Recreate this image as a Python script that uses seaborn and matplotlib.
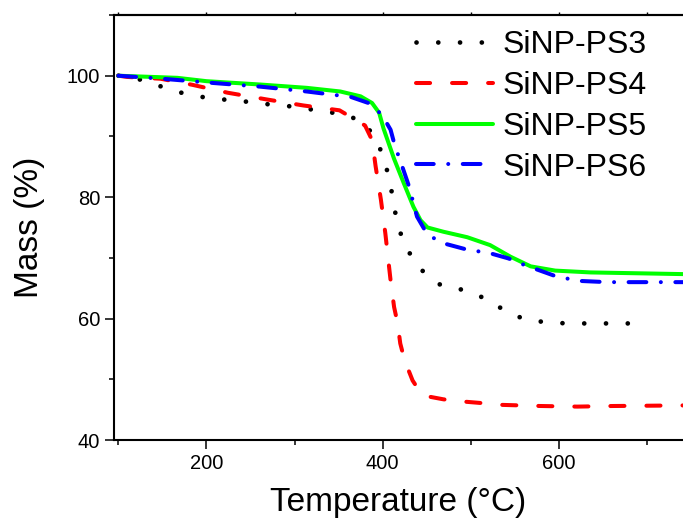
import matplotlib
matplotlib.use("Agg")
import matplotlib.pyplot as plt
from matplotlib.ticker import MultipleLocator
import seaborn as sns
import pandas as pd

# ---- data ----
t_ps3 = [100, 127, 151, 176, 201, 225, 251, 275, 300, 327, 353, 378, 394, 403, 409,
         413, 418, 428, 445, 466, 492, 515, 538, 562, 586, 609, 631, 654, 676, 692, 701]
m_ps3 = [100, 99.3, 98.1, 97.0, 96.35, 96.0, 95.65, 95.2, 94.9, 94.25, 93.7, 92.5, 89.2, 85.6, 82.0,
         78.4, 74.9, 71.3, 67.9, 65.5, 64.7, 63.4, 61.4, 59.8, 59.4, 59.2, 59.2, 59.2, 59.2, 59.2, 59.8]

t_ps4 = [100, 110, 148, 184, 224, 258, 268, 310, 351, 380, 388, 392, 398, 403, 409,
         413, 417, 420, 425, 434, 445, 469, 486, 511, 532, 579, 621, 662, 704, 745]
m_ps4 = [100, 99.8, 99.5, 98.5, 97.2, 96.35, 96.1, 95.1, 94.3, 91.8, 89.4, 85.1, 79.6, 74.1, 66.3,
         61.9, 59.2, 55.9, 53.1, 49.8, 47.35, 46.7, 46.4, 46.1, 45.8, 45.6, 45.5, 45.6, 45.65, 45.7]

t_ps5 = [100, 167, 200, 261, 314, 352, 375, 388, 396, 401, 407, 413, 424, 435, 443,
         451, 469, 496, 522, 545, 568, 596, 636, 693, 750]
m_ps5 = [100, 99.65, 99.1, 98.55, 98.0, 97.4, 96.6, 95.5, 93.9, 91.3, 88.8, 86.3, 82.3, 78.4, 76.2,
         75.0, 74.3, 73.4, 72.1, 70.2, 68.6, 67.9, 67.6, 67.45, 67.3]

t_ps6 = [100, 150, 208, 261, 314, 364, 384, 399, 409, 414, 420, 430, 439, 451, 469,
         496, 521, 543, 556, 573, 598, 624, 655, 700, 742]
m_ps6 = [100, 99.5, 98.8, 98.2, 97.4, 96.5, 95.5, 93.6, 91.1, 88.4, 86.0, 81.75, 76.8, 73.8, 72.4,
         71.35, 70.8, 69.9, 69.1, 68.2, 66.9, 66.2, 66.0, 66.0, 66.0]

series_names = ["SiNP-PS3", "SiNP-PS4", "SiNP-PS5", "SiNP-PS6"]
x_ticks = [200, 400, 600]
y_ticks = [40, 60, 80, 100]

frames = []
for name, t, m in zip(series_names, [t_ps3, t_ps4, t_ps5, t_ps6], [m_ps3, m_ps4, m_ps5, m_ps6]):
    frames.append(pd.DataFrame({"Temperature": t, "Mass": m, "Sample": name}))
df = pd.concat(frames, ignore_index=True)

styles = {
    "SiNP-PS3": dict(color="#000000", linestyle=(0, (0.01, 4.6)), linewidth=3.4),
    "SiNP-PS4": dict(color="#FF0000", linestyle=(0, (3.5, 5.45)), linewidth=2.9),
    "SiNP-PS5": dict(color="#00FF00", linestyle="-", linewidth=2.9),
    "SiNP-PS6": dict(color="#0000FF", linestyle=(0, (4.4, 3.6, 0.01, 3.6)), linewidth=2.9),
}

sns.set_style("ticks")
plt.rcParams["font.family"] = ["Liberation Sans", "DejaVu Sans"]
plt.rcParams["text.color"] = "black"
plt.rcParams["axes.labelcolor"] = "black"
plt.rcParams["xtick.color"] = "black"
plt.rcParams["ytick.color"] = "black"
plt.rcParams["axes.edgecolor"] = "black"

fig = plt.figure(figsize=(6.83, 5.21), dpi=100)
ax = fig.add_axes([114 / 683, 1 - 440 / 521, (683 - 114) / 683, (440 - 15) / 521])

for name in series_names:
    sub = df[df["Sample"] == name]
    sns.lineplot(data=sub, x="Temperature", y="Mass", ax=ax, label=name,
                 sort=False, estimator=None,
                 dash_capstyle="round", solid_capstyle="round", **styles[name])

ax.set_xlim(95, 741)
ax.set_ylim(40, 110)
ax.set_xticks(x_ticks)
ax.set_yticks(y_ticks)
ax.xaxis.set_minor_locator(MultipleLocator(100))
ax.yaxis.set_minor_locator(MultipleLocator(10))

for s in ["left", "bottom", "top"]:
    ax.spines[s].set_linewidth(1.5)
    ax.spines[s].set_color("black")
ax.spines["right"].set_visible(False)

ax.tick_params(axis="both", which="major", direction="out", length=6.5, width=1.1,
               labelsize=14.5, pad=3.5, colors="black")
ax.tick_params(axis="both", which="minor", direction="out", length=3.5, width=1.1, colors="black")
# small ticks on the top spine
sec = ax.secondary_xaxis("top")
sec.set_xticks(x_ticks)
sec.xaxis.set_minor_locator(MultipleLocator(100))
sec.tick_params(which="both", direction="out", length=2, width=1.0, labeltop=False, colors="black")
sec.spines["top"].set_linewidth(1.5)

ax.set_xlabel("Temperature (°C)", fontsize=24, labelpad=10, color="black")
ax.set_ylabel("Mass (%)", fontsize=24, labelpad=16, color="black")

leg = ax.legend(loc="upper left", bbox_to_anchor=(416 / 683, 1 - 30 / 521),
                bbox_transform=fig.transFigure, frameon=False, fontsize=23,
                handlelength=2.41, handletextpad=0.3, labelspacing=0.34,
                borderpad=0, borderaxespad=0)
for txt in leg.get_texts():
    txt.set_color("black")

fig.savefig("out.png", dpi=100)
